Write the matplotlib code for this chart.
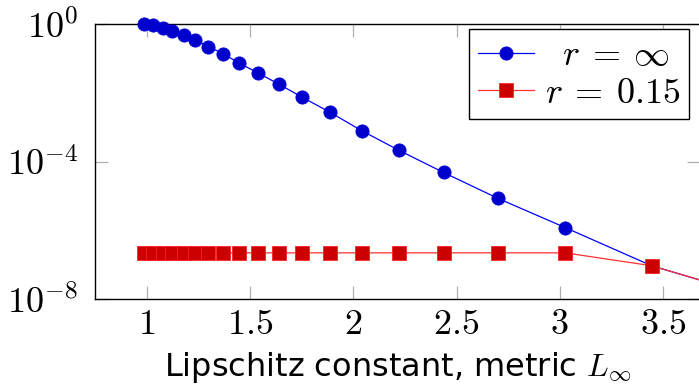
import numpy as np
import matplotlib
matplotlib.use('Agg')
import matplotlib.pyplot as plt
from matplotlib.ticker import FixedLocator, FixedFormatter

# ========================
# data
# ========================
lipschitz = [0.987, 1.031, 1.076, 1.123, 1.178, 1.235, 1.298, 1.370, 1.448, 1.537,
             1.639, 1.752, 1.885, 2.040, 2.222, 2.437, 2.700, 3.026, 3.445, 3.900]
err_r_inf = [1.0, 0.91, 0.79, 0.63, 0.47, 0.34, 0.22, 0.135, 0.072, 0.038,
             0.0178, 0.0074, 0.00275, 7.9e-4, 2.1e-4, 4.8e-5, 8.5e-6, 1.2e-6, 9.3e-8, 1.45e-8]
err_r_015 = [2.2e-7] * 18 + [9.3e-8, 1.45e-8]

label_inf = r'$\;\;r\:=\:\infty$'
label_015 = r'$r\:=\:0.15$'

xticks = [1, 1.5, 2, 2.5, 3, 3.5]
xtick_labels = [r'$1$', r'$1.5$', r'$2$', r'$2.5$', r'$3$', r'$3.5$']
yticks = [1e0, 1e-4, 1e-8]
ytick_labels = [r'$10^{0}$', r'$10^{-4}$', r'$10^{-8}$']
xlabel = r'Lipschitz constant, metric $L_\infty$'

plt.rcParams['mathtext.fontset'] = 'cm'
plt.rcParams['font.family'] = 'DejaVu Sans'

W, H = 699, 392
fig = plt.figure(figsize=(W / 100, H / 100), dpi=100)
# axes box in pixels: left 95, right 700, top 24, bottom 299
ax = fig.add_axes([95 / W, (H - 299) / H, (700 - 95) / W, (299 - 24) / H])

ax.plot(lipschitz, err_r_inf, color='#0000ff', lw=0.9, marker='o', markersize=9.5,
        markerfacecolor='#0000cc', markeredgecolor='#0000dd', markeredgewidth=0.6,
        label=label_inf, clip_on=False, zorder=3)
ax.plot(lipschitz, err_r_015, color='#ff3030', lw=0.9, marker='s', markersize=10,
        markerfacecolor='#cc0000', markeredgecolor='#ff2020', markeredgewidth=0.6,
        label=label_015, clip_on=False, zorder=4)

ax.set_yscale('log')
ax.set_xlim(0.748, 3.68)
ax.set_ylim(1e-8, 1e0)

ax.xaxis.set_major_locator(FixedLocator(xticks))
ax.xaxis.set_major_formatter(FixedFormatter(xtick_labels))
ax.yaxis.set_major_locator(FixedLocator(yticks))
ax.yaxis.set_major_formatter(FixedFormatter(ytick_labels))
ax.yaxis.set_minor_locator(FixedLocator([]))

ax.tick_params(which='major', direction='in', length=9.5, width=0.9, color='#b0b0b0',
               top=True, right=True, labelsize=26, pad=6)
ax.tick_params(axis='y', pad=12)

for sp in ax.spines.values():
    sp.set_linewidth(1.0)
    sp.set_color('black')

ax.set_xlabel(xlabel, fontsize=23, labelpad=6)

leg = ax.legend(loc='upper right', bbox_to_anchor=(0.982, 0.981), fontsize=26,
                frameon=True, fancybox=False, edgecolor='black', framealpha=1,
                handlelength=1.55, handletextpad=0.3, borderpad=0.25, labelspacing=0.1,
                borderaxespad=0)
leg.get_frame().set_linewidth(1.0)

fig.savefig('out.png', dpi=100)
